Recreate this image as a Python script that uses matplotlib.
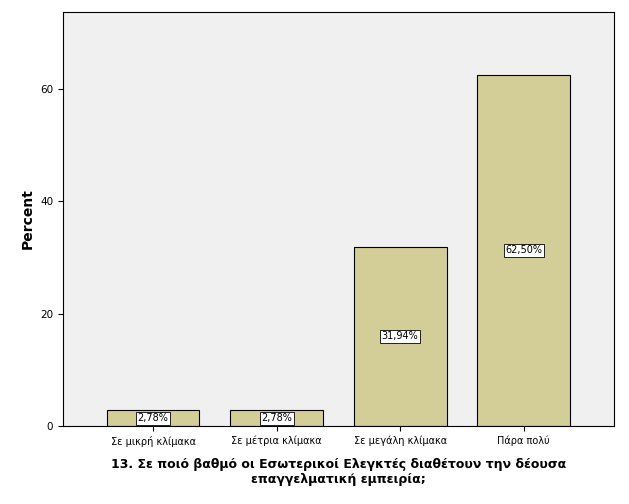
import matplotlib
matplotlib.use("Agg")
import matplotlib.pyplot as plt

categories = ["Σε μικρή κλίμακα", "Σε μέτρια κλίμακα", "Σε μεγάλη κλίμακα", "Πάρα πολύ"]
values = [2.78, 2.78, 31.94, 62.50]
labels = ["2,78%", "2,78%", "31,94%", "62,50%"]

fig = plt.figure(figsize=(6.29, 5.04), dpi=100)
ax = fig.add_axes([0.1, 0.155, 0.876, 0.821])
ax.set_facecolor("#f0f0f0")
x = range(len(categories))
ax.bar(x, values, width=0.75, color="#d3ce98", edgecolor="black", linewidth=0.8, zorder=2)
for i, (v, l) in enumerate(zip(values, labels)):
    ax.text(i, v / 2, l, ha="center", va="center", fontsize=7, zorder=3,
            bbox=dict(boxstyle="square,pad=0.15", fc="white", ec="black", lw=0.6))
ax.set_xlim(-0.73, 3.73)
ax.set_ylim(0, 73.7)
ax.set_yticks([0, 20, 40, 60])
ax.set_xticks(list(x))
ax.set_xticklabels(categories, fontsize=7)
ax.tick_params(axis="y", labelsize=7.5)
ax.set_ylabel("Percent", fontsize=10, fontweight="bold")
ax.set_xlabel("13. Σε ποιό βαθμό οι Εσωτερικοί Ελεγκτές διαθέτουν την δέουσα\nεπαγγελματική εμπειρία;",
              fontsize=9, fontweight="bold", labelpad=8)
fig.savefig("out.png", dpi=100, facecolor="white")
